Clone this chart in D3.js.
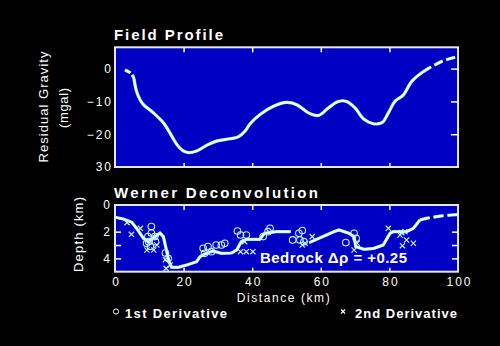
<!DOCTYPE html>
<html><head><meta charset="utf-8">
<script src="https://cdn.jsdelivr.net/npm/d3@7"></script>
<style>
html,body{margin:0;padding:0;background:#000;}
svg{display:block;}
text{font-family:"Liberation Sans",Arial,sans-serif;fill:#fff;}
</style></head>
<body>
<script>
// ---- data ----
const gravityDist = [2.9,4.6,5.5,6.3,7.3,8.3,11.2,14.1,16.0,18.0,19.9,21.4,23.8,26.7,29.6,33.5,35.9,37.9,39.4,42.3,46.2,50.0,53.0,56.4,59.3,62.2,65.1,67.5,70.0,72.4,75.3,77.8,79.7,81.6,84.1,86.5,89.9,92.3,95.7,99.6];
const gravityVal  = [-0.4,-1.4,-2.9,-7.0,-9.5,-11,-13.5,-16.5,-19.6,-23.1,-25.1,-25.6,-25.1,-23.4,-22.1,-21.4,-20.8,-19.1,-16.8,-14.0,-11.5,-10.3,-11.0,-13.5,-14.3,-12.0,-10.0,-10.0,-12.0,-15.3,-16.8,-16.5,-13.5,-10.0,-8.0,-3.9,-0.9,0.6,2.4,3.6];
const bedrockDist  = [0,2.4,4.9,6.3,8.3,9.7,11.7,13.1,14.1,15.1,15.6,16.5,18.5,20.9,23.8,24.8,26.2,28.5,31,34,35.5,36.8,38.3,42.2,43.6,47,51.2,null,56.6,63.8,65.3,68.2,69.7,70.2,72.6,75.5,78.2,80.2,81.1,85,87,88.9];
const bedrockDepth = [0.92,1.05,1.3,1.75,2.5,2.75,2.37,2.1,2.37,3.5,4.1,4.67,4.67,4.5,4.25,3.87,3.67,3.45,3.62,3.6,3.37,2.75,2.57,2.57,2.12,2.0,2.0,null,2.82,2.0,1.87,2.12,2.37,3.12,3.32,3.25,3.0,2.12,2.0,2.0,1.75,1.12];
const bedrockTailDist  = [88.9,90.7,93.8,95.2,98.2,100];
const bedrockTailDepth = [1.12,1.0,0.87,0.82,0.75,0.72];
const firstDerivDist  = [10.6,10.6,9.6,11.6,9.8,11.8,10.3,9.2,14.7,15.5,25.7,27.1,26.1,28.1,29.5,31.0,32.0,35.7,36.6,38.3,43.2,44.6,45.2,51.8,53.6,54.6,53.9,55.1,67.3,69.7,70.3];
const firstDerivDepth = [1.62,2.1,2.37,2.37,2.75,2.75,3.1,2.87,3.6,4.0,3.25,3.12,3.62,3.5,3.0,3.0,2.87,1.95,2.25,2.25,2.37,2.0,1.75,2.62,2.12,1.92,2.62,2.75,2.82,2.12,2.5];
const secondDerivDist  = [3.5,4.8,7.4,9.3,11.3,12.2,14.7,14.9,16.1,36.6,38.3,40.2,37.8,54.6,55.4,57.5,69.7,70.6,79.7,83.6,84.5,83.1,85,87,83.8];
const secondDerivDepth = [1.32,2.2,1.75,3.37,3.37,3.0,4.1,4.75,4.5,3.5,3.5,3.5,2.75,3.0,2.87,2.37,3.37,2.87,1.75,2.07,2.0,2.25,2.62,2.87,3.05];
const xTicks = [0,20,40,60,80,100];
const gravityTicks = [0,-10,-20,-30];
const gravityTickLabels = ["0","\u221210","\u221220","30"];
const depthTicks = [0,2,4];
const depthMinorTicks = [2,3,4];

const W=500,H=346;
const svg=d3.select("body").append("svg").attr("width",W).attr("height",H);
svg.append("rect").attr("width",W).attr("height",H).attr("fill","#000");

const x=d3.scaleLinear().domain([0,100]).range([115,458]);
const yG=d3.scaleLinear().domain([-30,6.5]).range([167,47.3]);
const yD=d3.scaleLinear().domain([0,5]).range([205,271.7]);
const BLUE="#0000c4";

function panel(top, bottom){
  svg.append("rect").attr("x",115).attr("y",top).attr("width",343).attr("height",bottom-top)
    .attr("fill",BLUE);
}
panel(47.3,167);
panel(205,271.7);

// ---- ticks ----
function xInnerTicks(yTop,yBot){
  const inner=[20,40,60,80];
  svg.append("g").attr("transform",`translate(0,${yTop})`)
    .call(d3.axisBottom(x).tickValues(inner).tickSize(5).tickFormat(""))
    .call(g=>{g.select(".domain").remove();g.selectAll("line").attr("stroke","#fff").attr("stroke-width",1.5);});
  svg.append("g").attr("transform",`translate(0,${yBot})`)
    .call(d3.axisTop(x).tickValues(inner).tickSize(4).tickFormat(""))
    .call(g=>{g.select(".domain").remove();g.selectAll("line").attr("stroke","#fff").attr("stroke-width",1.5);});
}
xInnerTicks(47.3,167);
xInnerTicks(205,271.7);

// top panel y
svg.append("g").attr("transform","translate(458,0)")
  .call(d3.axisLeft(yG).tickValues([0,-10,-20]).tickSize(7).tickFormat(""))
  .call(g=>{g.select(".domain").remove();g.selectAll("line").attr("stroke","#fff").attr("stroke-width",1.5);});
svg.append("g").attr("transform","translate(113,0)")
  .call(d3.axisLeft(yG).tickValues(gravityTicks).tickSize(0).tickPadding(0)
    .tickFormat((d,i)=>gravityTickLabels[i]))
  .call(g=>{g.select(".domain").remove();
    g.selectAll("text").attr("font-size",12).attr("letter-spacing","2px").attr("fill","#fff")
     .attr("font-family","Liberation Sans, Arial, sans-serif");});

// bottom panel y
svg.append("g").attr("transform","translate(115,0)")
  .call(d3.axisRight(yD).tickValues(depthMinorTicks).tickSize(6).tickFormat(""))
  .call(g=>{g.select(".domain").remove();g.selectAll("line").attr("stroke","#fff").attr("stroke-width",1.5);});
svg.append("g").attr("transform","translate(458,0)")
  .call(d3.axisLeft(yD).tickValues(depthMinorTicks).tickSize(6).tickFormat(""))
  .call(g=>{g.select(".domain").remove();g.selectAll("line").attr("stroke","#fff").attr("stroke-width",1.5);});
svg.append("g").attr("transform","translate(110,0)")
  .call(d3.axisLeft(yD).tickValues(depthTicks).tickSize(0).tickPadding(0).tickFormat(d3.format("d")))
  .call(g=>{g.select(".domain").remove();
    g.selectAll("text").attr("font-size",12).attr("fill","#fff")
     .attr("font-family","Liberation Sans, Arial, sans-serif");});

// x labels
svg.append("g").attr("transform","translate(0,272)")
  .call(d3.axisBottom(x).tickValues(xTicks).tickSize(0).tickPadding(5).tickFormat(d3.format("d")))
  .call(g=>{g.select(".domain").remove();
    g.selectAll("text").attr("font-size",12).attr("letter-spacing","2px").attr("dx","1")
      .attr("fill","#fff").attr("font-family","Liberation Sans, Arial, sans-serif");});

// ---- borders ----
[[47.3,167],[205,271.7]].forEach(([t,b])=>{
  svg.append("rect").attr("x",115).attr("y",t).attr("width",343).attr("height",b-t)
    .attr("fill","none").attr("stroke","#e6e6e6").attr("stroke-width",2);
});

// ---- gravity curve ----
const gPts=gravityDist.map((d,i)=>[d,gravityVal[i]]);
const gLine=d3.line().x(d=>x(d[0])).y(d=>yG(d[1])).curve(d3.curveCatmullRom.alpha(0.5));
const solidG=gPts.filter(p=>p[0]>=5.5&&p[0]<=89.9);
const startG=gPts.filter(p=>p[0]<=5.5);
const endG=gPts.filter(p=>p[0]>=89.9);
function drawLine(data,lineGen,dash){
  svg.append("path").datum(data).attr("d",lineGen).attr("fill","none")
    .attr("stroke","#7fe8ff").attr("stroke-width",3.2).attr("stroke-dasharray",dash||null)
    .attr("stroke-linecap","butt");
  svg.append("path").datum(data).attr("d",lineGen).attr("fill","none")
    .attr("stroke","#ffffff").attr("stroke-width",2.1).attr("stroke-dasharray",dash||null)
    .attr("stroke-linecap","butt");
}
drawLine(solidG,gLine);
drawLine(startG,gLine,"6,3");
drawLine(endG,gLine,"9,4");

// ---- bedrock line ----
const bPts=bedrockDist.map((d,i)=>[d,bedrockDepth[i]]);
const bLine=d3.line().defined(d=>d[0]!==null).x(d=>x(d[0])).y(d=>yD(d[1]));
drawLine(bPts,bLine);
const tPts=bedrockTailDist.map((d,i)=>[d,bedrockTailDepth[i]]);
drawLine(tPts,bLine,"10,4");

// ---- markers ----
const circ=firstDerivDist.map((d,i)=>[d,firstDerivDepth[i]]);
svg.append("g").selectAll("circle").data(circ).join("circle")
  .attr("cx",d=>x(d[0])).attr("cy",d=>yD(d[1])).attr("r",3.3)
  .attr("fill","none").attr("stroke","#bff4ff").attr("stroke-width",1.1);
const crs=secondDerivDist.map((d,i)=>[d,secondDerivDepth[i]]);
const s=2.6;
svg.append("g").selectAll("path").data(crs).join("path")
  .attr("d",d=>{const cx=x(d[0]),cy=yD(d[1]);return `M${cx-s},${cy-s}L${cx+s},${cy+s}M${cx-s},${cy+s}L${cx+s},${cy-s}`;})
  .attr("stroke","#bff4ff").attr("stroke-width",1.2).attr("fill","none");

// ---- texts ----
function txt(str,xx,yy,opts){
  const t=svg.append("text").attr("x",xx).attr("y",yy).text(str);
  Object.entries(opts||{}).forEach(([k,v])=>t.attr(k,v));
  return t;
}
txt("Field Profile",114,40,{"font-size":15,"font-weight":"bold",textLength:109,lengthAdjust:"spacing"});
txt("Werner Deconvolution",114,198,{"font-size":15,"font-weight":"bold",textLength:204,lengthAdjust:"spacing"});
txt("Residual Gravity",0,0,{"font-size":13,textLength:111,lengthAdjust:"spacing","text-anchor":"middle",
  transform:"translate(48,107) rotate(-90)",fill:"#e4e4e4"});
txt("(mgal)",0,0,{"font-size":13,textLength:40,lengthAdjust:"spacing","text-anchor":"middle",
  transform:"translate(68,108) rotate(-90)",fill:"#e4e4e4"});
txt("Depth (km)",0,0,{"font-size":13,textLength:75,lengthAdjust:"spacing","text-anchor":"middle",
  transform:"translate(83,234.5) rotate(-90)"});
txt("Distance (km)",236.7,302,{"font-size":12,textLength:93,lengthAdjust:"spacing"});
txt("Bedrock Δρ = +0.25",260,263.3,{"font-size":15,"font-weight":"bold",textLength:147,lengthAdjust:"spacing"});
txt("1st Derivative",125,317.7,{"font-size":13,"font-weight":"bold",textLength:102,lengthAdjust:"spacing"});
txt("2nd Derivative",355,317.7,{"font-size":13,"font-weight":"bold",textLength:102,lengthAdjust:"spacing"});
svg.append("circle").attr("cx",116).attr("cy",311.5).attr("r",2.6).attr("fill","none").attr("stroke","#fff").attr("stroke-width",1);
svg.append("path").attr("d","M341,309.5L345,313.5M341,313.5L345,309.5").attr("stroke","#fff").attr("stroke-width",1.2);
</script>
</body></html>
